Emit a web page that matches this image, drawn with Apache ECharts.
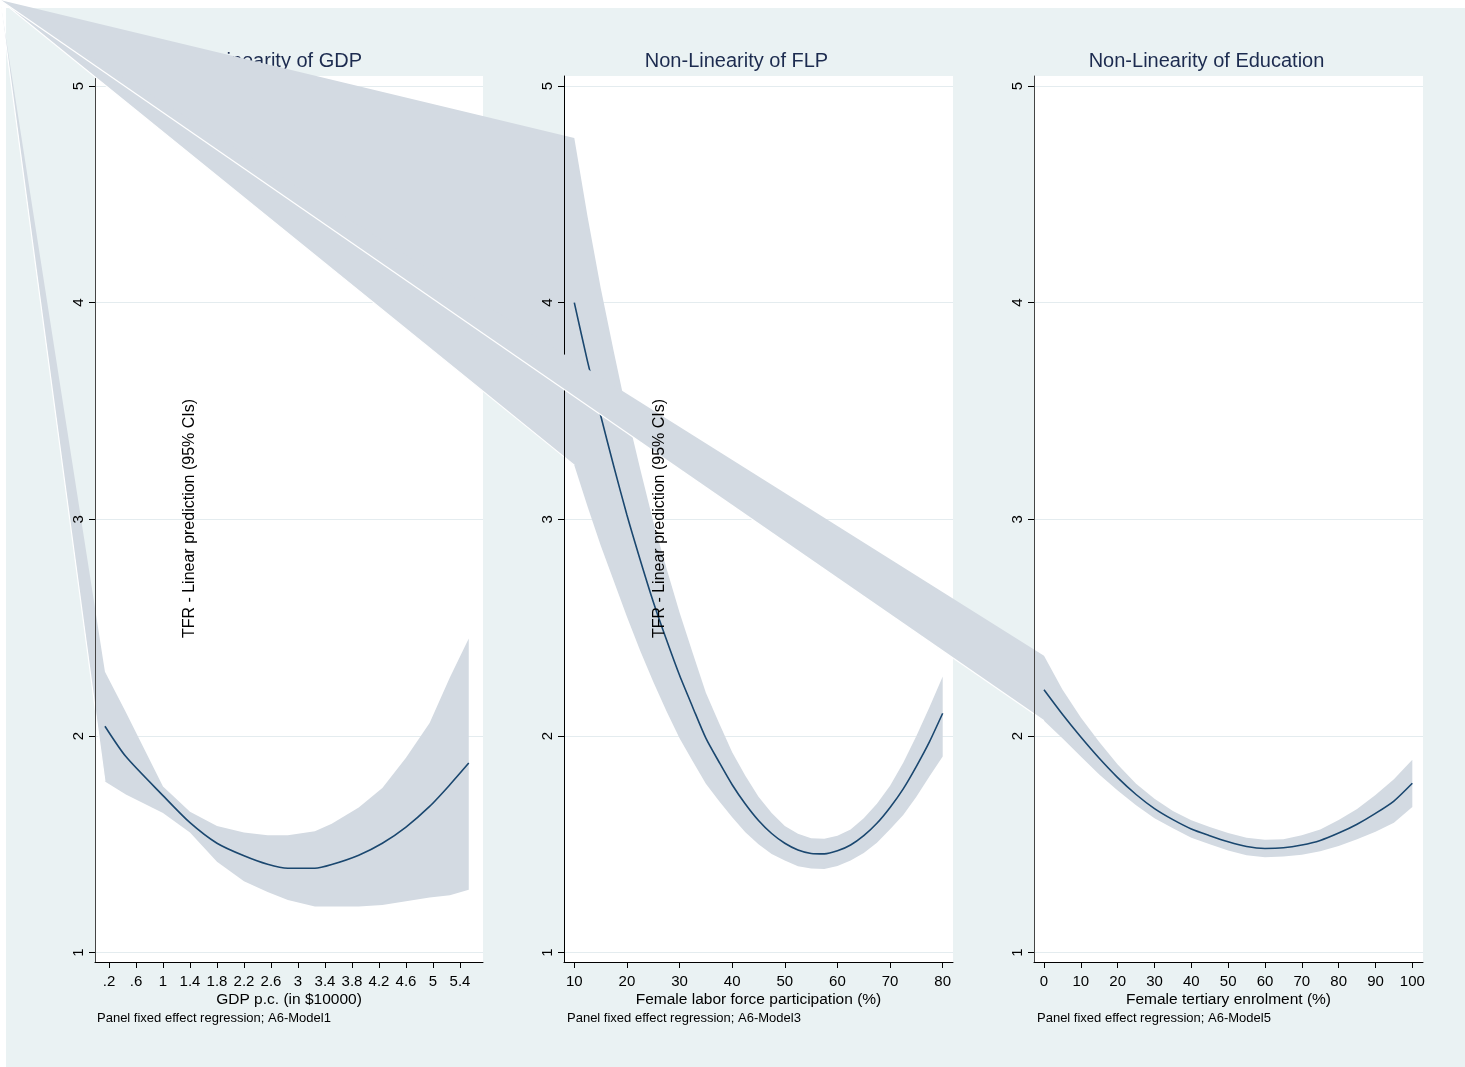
<!DOCTYPE html>
<html><head><meta charset="utf-8">
<script src="https://cdn.jsdelivr.net/npm/echarts@6/dist/echarts.min.js"></script>
<style>
html,body{margin:0;padding:0;background:#fff;width:1465px;height:1067px;overflow:hidden}
#bg{position:absolute;left:6px;top:8px;right:0;bottom:0;background:#EAF2F3}
#chart{position:absolute;left:0;top:0;width:1465px;height:1067px}
</style></head><body><div id="bg"></div><div id="chart"></div>
<script>
// ---------------- data ----------------
const gdpX     = [0.14, 0.45, 1.0, 1.4, 1.8, 2.2, 2.55, 2.85, 3.25, 3.5, 3.9, 4.25, 4.6, 4.95, 5.25, 5.53];
const gdpFit   = [2.045, 1.905, 1.725, 1.60, 1.505, 1.447, 1.408, 1.39, 1.39, 1.407, 1.45, 1.505, 1.58, 1.675, 1.775, 1.875];
const gdpUpper = [2.297, 2.11, 1.767, 1.65, 1.585, 1.555, 1.542, 1.542, 1.56, 1.595, 1.67, 1.76, 1.90, 2.06, 2.27, 2.45];
const gdpLower = [1.79, 1.73, 1.645, 1.555, 1.42, 1.33, 1.28, 1.243, 1.213, 1.213, 1.213, 1.22, 1.237, 1.255, 1.265, 1.29];

const flpX     = [10, 12.5, 15, 17.5, 20, 22.5, 25, 27.5, 30, 32.5, 35, 37.5, 40, 42.5, 45, 47.5, 50, 52.5, 55, 57.5, 60, 62.5, 65, 67.5, 70, 72.5, 75, 77.5, 80];
const flpFit   = [4.00, 3.73, 3.48, 3.245, 3.02, 2.815, 2.62, 2.445, 2.28, 2.133, 1.99, 1.88, 1.775, 1.686, 1.61, 1.55, 1.505, 1.474, 1.458, 1.456, 1.47, 1.497, 1.54, 1.597, 1.67, 1.756, 1.86, 1.974, 2.105];
const flpUpper = [4.76, 4.40, 4.07, 3.775, 3.49, 3.235, 2.99, 2.775, 2.57, 2.383, 2.20, 2.06, 1.925, 1.816, 1.72, 1.645, 1.585, 1.549, 1.528, 1.526, 1.54, 1.569, 1.62, 1.687, 1.77, 1.876, 2.00, 2.134, 2.275];
const flpLower = [3.25, 3.06, 2.88, 2.715, 2.55, 2.395, 2.25, 2.115, 1.99, 1.883, 1.78, 1.70, 1.625, 1.556, 1.50, 1.455, 1.425, 1.399, 1.388, 1.386, 1.40, 1.425, 1.46, 1.507, 1.57, 1.636, 1.72, 1.814, 1.905];

const eduX     = [0, 5, 10, 15, 20, 25, 30, 35, 40, 45, 50, 55, 60, 65, 70, 75, 80, 85, 90, 95, 100];
const eduFit   = [2.213, 2.10, 1.995, 1.897, 1.808, 1.73, 1.665, 1.614, 1.571, 1.54, 1.512, 1.49, 1.481, 1.484, 1.497, 1.518, 1.552, 1.593, 1.643, 1.70, 1.782];
const eduUpper = [2.37, 2.215, 2.085, 1.972, 1.868, 1.78, 1.71, 1.654, 1.611, 1.58, 1.552, 1.53, 1.521, 1.524, 1.542, 1.568, 1.612, 1.663, 1.728, 1.80, 1.89];
const eduLower = [2.07, 1.99, 1.905, 1.822, 1.748, 1.68, 1.62, 1.574, 1.531, 1.50, 1.472, 1.45, 1.441, 1.444, 1.452, 1.468, 1.492, 1.523, 1.558, 1.60, 1.672];

const gdpTicks = [0.2, 0.6, 1, 1.4, 1.8, 2.2, 2.6, 3, 3.4, 3.8, 4.2, 4.6, 5, 5.4];
const flpTicks = [10, 20, 30, 40, 50, 60, 70, 80];
const eduTicks = [0, 10, 20, 30, 40, 50, 60, 70, 80, 90, 100];
const yTicks   = [1, 2, 3, 4, 5];

const panelTitles = ['Non-Linearity of GDP', 'Non-Linearity of FLP', 'Non-Linearity of Education'];
const xTitles = ['GDP p.c. (in $10000)', 'Female labor force participation (%)', 'Female tertiary enrolment (%)'];
const notes = ['Panel fixed effect regression; A6-Model1', 'Panel fixed effect regression; A6-Model3', 'Panel fixed effect regression; A6-Model5'];
const yTitle = 'TFR - Linear prediction (95% CIs)';

// ---------------- layout / style ----------------
const FONT = '"Liberation Sans", Arial, Helvetica, sans-serif';
const BAND = '#D3DAE2';
const LINE = '#1A476F';
const GRIDTOP = 76, GRIDH = 886, YMIN = 0.957, YMAX = 5.046;
const panels = [
  {left: 95,   width: 388, xmin: -0.0074, xmax: 5.741, xs: gdpX, fit: gdpFit, up: gdpUpper, lo: gdpLower, ticks: gdpTicks, titleX: 267,  ytX: 190, noteX: 97},
  {left: 564,  width: 389, xmin: 8.043,   xmax: 81.957, xs: flpX, fit: flpFit, up: flpUpper, lo: flpLower, ticks: flpTicks, titleX: 736.5, ytX: 660, noteX: 567},
  {left: 1034, width: 389, xmin: -2.715,  xmax: 102.9, xs: eduX, fit: eduFit, up: eduUpper, lo: eduLower, ticks: eduTicks, titleX: 1206.5, ytX: null, noteX: 1037}
];

function fmt(v) {
  const s = String(Math.round(v * 10) / 10);
  return s.replace(/^0\./, '.');
}

function bandRenderer(xs, up, lo) {
  return function (params, api) {
    // the reference's CI outline starts from the canvas origin
    const pts = [[0, 0]];
    for (let i = 0; i < xs.length; i++) pts.push(api.coord([xs[i], up[i]]));
    for (let i = xs.length - 1; i >= 0; i--) pts.push(api.coord([xs[i], lo[i]]));
    const l0 = api.coord([xs[0], lo[0]]);
    return {
      type: 'group',
      children: [
        {type: 'polygon', shape: {points: pts}, style: {fill: BAND}},
        {type: 'line', shape: {x1: l0[0], y1: l0[1], x2: 0, y2: 0}, style: {stroke: '#ffffff', lineWidth: 1.2}}
      ]
    };
  };
}

const grids = [], xAxes = [], yAxes = [], series = [], graphics = [];
panels.forEach(function (p, i) {
  const zBase = 2 + i * 3;
  grids.push({left: p.left, top: GRIDTOP, width: p.width, height: GRIDH, show: true,
    backgroundColor: '#ffffff', borderWidth: 0, containLabel: false});
  xAxes.push({
    gridIndex: i, type: 'value', min: p.xmin, max: p.xmax, z: zBase + 2,
    axisLine: {show: true, onZero: false, lineStyle: {color: '#000', width: 1}},
    axisTick: {show: true, length: 6, customValues: p.ticks, lineStyle: {color: '#000', width: 1}},
    axisLabel: {customValues: p.ticks, formatter: fmt, fontSize: 15, color: '#000', fontFamily: FONT, margin: 12},
    splitLine: {show: false},
    name: xTitles[i], nameLocation: 'middle', nameGap: 30, nameMoveOverlap: false,
    nameTextStyle: {fontSize: 15.5, color: '#000', fontFamily: FONT}
  });
  // gridline-only axis (below the bands)
  yAxes.push({
    gridIndex: i, type: 'value', min: YMIN, max: YMAX, position: 'left', z: 1,
    axisLine: {show: false}, axisTick: {show: false, customValues: yTicks},
    axisLabel: {show: false, customValues: yTicks},
    splitLine: {show: true, lineStyle: {color: '#E4ECEF', width: 1}}
  });
  // drawn axis (above the bands)
  yAxes.push({
    gridIndex: i, type: 'value', min: YMIN, max: YMAX, position: 'left', z: zBase + 2,
    axisLine: {show: true, onZero: false, lineStyle: {color: i === 1 ? '#000' : '#444', width: 1}},
    axisTick: {show: true, length: 6, customValues: yTicks, lineStyle: {color: '#000', width: 1}},
    axisLabel: {customValues: yTicks, rotate: 90, fontSize: 15, color: '#000', fontFamily: FONT, margin: 9},
    splitLine: {show: false}
  });
  series.push({
    type: 'custom', xAxisIndex: i, yAxisIndex: i * 2 + 1, z: zBase, clip: false, silent: true,
    renderItem: bandRenderer(p.xs, p.up, p.lo),
    data: [[p.xs[0], p.up[0]]]
  });
  series.push({
    type: 'line', xAxisIndex: i, yAxisIndex: i * 2 + 1, z: zBase + 1, silent: true,
    data: p.xs.map(function (x, k) { return [x, p.fit[k]]; }),
    showSymbol: false, symbol: 'none', smooth: 0.25,
    lineStyle: {color: LINE, width: 1.6}
  });
  graphics.push({type: 'text', x: p.titleX, y: 61, z: 1,
    style: {text: panelTitles[i], fill: '#1C2B4F', fontSize: 20, fontFamily: FONT,
      align: 'center', verticalAlign: 'middle', textAlign: 'center', textVerticalAlign: 'middle'}});
  graphics.push({type: 'text', x: p.noteX, y: 1018, z: 20,
    style: {text: notes[i], fill: '#000', fontSize: 13, fontFamily: FONT,
      align: 'left', verticalAlign: 'middle', textAlign: 'left', textVerticalAlign: 'middle'}});
  if (p.ytX !== null) {
    graphics.push({type: 'text', x: p.ytX, y: 518.5, z: 20, rotation: Math.PI / 2,
      style: {text: yTitle, fill: '#000', fontSize: 16, fontFamily: FONT,
        align: 'center', verticalAlign: 'middle', textAlign: 'center', textVerticalAlign: 'middle'}});
  }
});

const chart = echarts.init(document.getElementById('chart'), null, {renderer: 'canvas'});
chart.setOption({
  backgroundColor: 'transparent',
  animation: false,
  grid: grids,
  xAxis: xAxes,
  yAxis: yAxes,
  series: series,
  graphic: {elements: graphics}
});
</script></body></html>
